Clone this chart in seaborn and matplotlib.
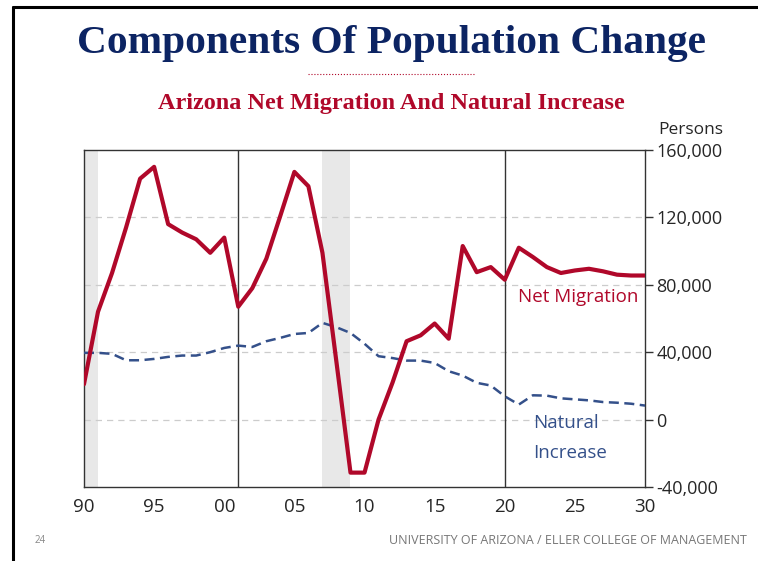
import numpy as np
import pandas as pd
import matplotlib
matplotlib.use("Agg")
import matplotlib.pyplot as plt
import seaborn as sns

# annual values, 1990-2030
years = list(range(1990, 2031))
net_migration = [21000, 64000, 87000, 114000, 143000, 150000, 116000, 111000, 107000, 99000,
                 108000, 67000, 78000, 95500, 121000, 147000, 138500, 99000, 34000, -31500,
                 -31500, 0, 22000, 46500, 50000, 57000, 48000, 103000, 87500, 90500,
                 83000, 102000, 96500, 90500, 87000, 88500, 89500, 88000, 86000, 85500, 85500]
natural_increase = [39600, 39600, 39000, 35200, 35200, 36000, 37200, 38000, 38000, 40000,
                    42500, 43900, 43100, 46500, 48500, 50800, 51400, 57400, 54800, 51400,
                    45000, 37600, 36500, 35000, 35000, 33600, 28700, 26100, 21800, 20200,
                    13800, 8900, 14400, 14200, 12600, 12000, 11400, 10400, 10000, 9400, 8300]
recessions = [(1990, 1991), (2007, 2009)]
marker_years = [2001, 2020]
x_ticks = [1990, 1995, 2000, 2005, 2010, 2015, 2020, 2025, 2030]
x_labels = ["90", "95", "00", "05", "10", "15", "20", "25", "30"]
y_ticks = [-40000, 0, 40000, 80000, 120000, 160000]

red = "#B0082A"
blue = "#34508A"
navy = "#0C2463"

df = pd.DataFrame({"year": years, "Net Migration": net_migration,
                   "Natural Increase": natural_increase})

sns.set_style("white")
plt.rcParams['font.family'] = ['Open Sans', 'DejaVu Sans']

fig = plt.figure(figsize=(7.58, 5.61), dpi=100)
ax = fig.add_axes([0.1108, 0.132, 0.7402, 0.6006])

for a, b in recessions:
    ax.axvspan(a, b, color="#E8E8E8", zorder=0, lw=0)
for yr in marker_years:
    ax.axvline(yr, color="#333333", lw=1, zorder=1)

sns.lineplot(data=df, x="year", y="Net Migration", color=red, lw=3.0, ax=ax, zorder=4)
sns.lineplot(data=df, x="year", y="Natural Increase", color=blue, lw=1.8,
             linestyle=(0, (4, 2.2)), ax=ax, zorder=3)

ax.set_xlim(1990, 2030)
ax.set_ylim(-40000, 160000)
ax.set_xticks(x_ticks)
ax.set_xticklabels(x_labels, fontsize=13.5)
ax.set_yticks(y_ticks)
ax.set_yticklabels([f"{v:,}" for v in y_ticks], fontsize=13)
ax.yaxis.tick_right()
ax.tick_params(axis="both", direction="out", length=6, width=1, color="#333333", pad=2)
ax.set_xlabel("")
ax.set_ylabel("")
for v in y_ticks[1:-1]:
    ax.axhline(v, color="#CCCCCC", lw=0.9, ls=(0, (5, 4)), zorder=0.5)
for s in ax.spines.values():
    s.set_color("#333333")
    s.set_linewidth(1)

ax.text(2025.2, 73000, "Net Migration", color=red, fontsize=13.5, ha="center", va="center")
ax.text(2022.0, -11000, "Natural\nIncrease", color=blue, fontsize=13.5, ha="left", va="center",
        linespacing=1.85)

fig.text(0.911, 0.768, "Persons", fontsize=12.5, ha="center", va="center")
fig.text(0.516, 0.922, "Components Of Population Change", family="Liberation Serif",
         fontweight="bold", fontsize=29.8, color=navy, ha="center", va="center")
fig.add_artist(plt.Line2D([0.406, 0.627], [0.868, 0.868], color=red, lw=0.8, ls=":"))
fig.text(0.516, 0.816, "Arizona Net Migration And Natural Increase", family="Liberation Serif",
         fontweight="bold", fontsize=17.5, color=red, ha="center", va="center")
fig.text(0.053, 0.036, "24", fontsize=7, color="#888888", ha="center", va="center")
fig.text(0.985, 0.036, "UNIVERSITY OF ARIZONA / ELLER COLLEGE OF MANAGEMENT", fontsize=9,
         color="#777777", ha="right", va="center")

# slide frame
fig.add_artist(plt.Line2D([0.017, 0.017], [0.0, 0.988], color="black", lw=2.2))
fig.add_artist(plt.Line2D([0.017, 1.0], [0.988, 0.988], color="black", lw=2.2))

fig.savefig("out.png", dpi=100)
